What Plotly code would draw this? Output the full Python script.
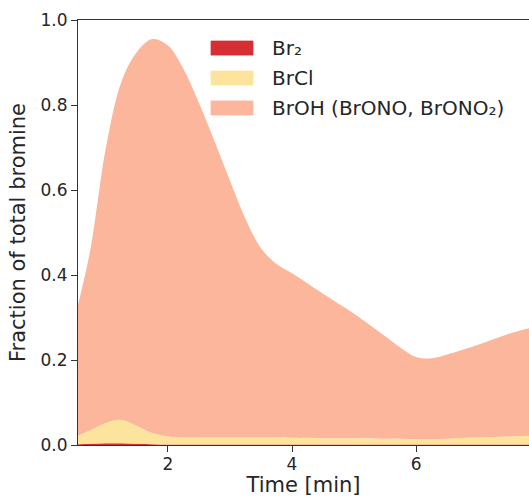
import plotly.graph_objects as go

time_min = [0.55, 0.75, 1.0, 1.25, 1.5, 1.75, 2.0, 2.25, 2.5, 2.75, 3.0, 3.25, 3.5,
            3.75, 4.0, 4.5, 5.0, 5.5, 5.75, 6.0, 6.25, 6.5, 7.0, 7.5, 7.82]
br2 = [0.002, 0.003, 0.004, 0.004, 0.003, 0.002, 0.001, 0.001, 0.001, 0.001, 0.001, 0.001, 0.001,
       0.001, 0.001, 0.001, 0.001, 0.001, 0.001, 0.001, 0.001, 0.001, 0.001, 0.001, 0.001]
brcl = [0.020, 0.032, 0.048, 0.055, 0.042, 0.026, 0.019, 0.017, 0.017, 0.017, 0.017, 0.017, 0.017,
        0.017, 0.016, 0.015, 0.015, 0.014, 0.014, 0.013, 0.013, 0.014, 0.017, 0.019, 0.021]
broh = [0.308, 0.425, 0.648, 0.796, 0.880, 0.927, 0.920, 0.867, 0.787, 0.697, 0.604, 0.514, 0.445,
        0.408, 0.387, 0.340, 0.293, 0.241, 0.214, 0.193, 0.190, 0.198, 0.218, 0.242, 0.253]

names = ["Br₂", "BrCl", "BrOH (BrONO, BrONO₂)"]
series = [br2, brcl, broh]
colors = ["#d62f33", "#fde49c", "#fbb69c"]

fig = go.Figure()
for name, vals, col in zip(names, series, colors):
    fig.add_trace(go.Scatter(
        x=time_min, y=vals, name=name, stackgroup="one", showlegend=False,
        mode="lines", line=dict(width=0, shape="spline", smoothing=1.0, color=col),
        fillcolor=col,
    ))

font = "DejaVu Sans, Arial, sans-serif"
txt = "#262626"

# legend drawn as patches + labels in paper coordinates
shapes, annotations = [], []
row_y = [0.934, 0.8635, 0.793]
for name, col, yc in zip(names, colors, row_y):
    shapes.append(dict(type="rect", xref="paper", yref="paper",
                       x0=0.295, x1=0.388, y0=yc - 0.0165, y1=yc + 0.0165,
                       fillcolor=col, line=dict(width=0.8, color=col), layer="above"))
    annotations.append(dict(xref="paper", yref="paper", x=0.426, y=yc,
                            xanchor="left", yanchor="middle", text=name, showarrow=False,
                            font=dict(size=20, family=font, color=txt)))

fig.update_layout(
    width=529, height=497,
    margin=dict(l=78, r=0, t=20, b=52),
    plot_bgcolor="white", paper_bgcolor="white",
    font=dict(family=font, size=17, color=txt),
    showlegend=False,
    shapes=shapes, annotations=annotations,
    xaxis=dict(range=[0.55, 7.82], tickvals=[2, 4, 6], ticktext=["2", "4", "6"],
               showline=True, linecolor="#333", linewidth=1.2, mirror=True,
               ticks="outside", ticklen=6, tickcolor="#333", showgrid=False, zeroline=False,
               ticklabelstandoff=-3, automargin=False,
               title=dict(text="Time [min]", font=dict(size=21), standoff=14),
               tickfont=dict(size=17)),
    yaxis=dict(range=[0, 1.0], tickvals=[0, 0.2, 0.4, 0.6, 0.8, 1.0],
               ticktext=["0.0", "0.2", "0.4", "0.6", "0.8", "1.0"],
               showline=True, linecolor="#333", linewidth=1.2, automargin=False,
               ticks="outside", ticklen=6, tickcolor="#333", showgrid=False, zeroline=False,
               title=dict(text="Fraction of total bromine", font=dict(size=21), standoff=9),
               tickfont=dict(size=17)),
)

fig.write_html("out.html")
